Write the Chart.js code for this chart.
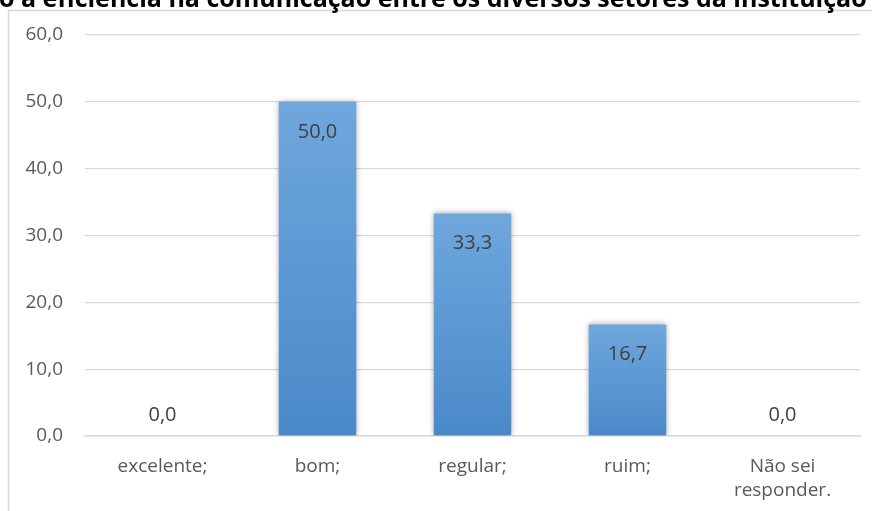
<!DOCTYPE html>
<html>
<head>
<meta charset="utf-8">
<script src="https://cdn.jsdelivr.net/npm/chart.js@4/dist/chart.umd.min.js"></script>
<style>
  html, body { margin: 0; padding: 0; background: #fff; }
  #wrap { position: relative; width: 872px; height: 511px; }
</style>
</head>
<body>
<div id="wrap"><canvas id="chart"></canvas></div>
<script>
// ── Dados ────────────────────────────────────────────────────────────
const categories = ['excelente;', 'bom;', 'regular;', 'ruim;', ['Não sei', 'responder.']];
const values     = [0.0, 50.0, 33.3, 16.7, 0.0];
const yTicks     = [0, 10, 20, 30, 40, 50, 60];
const titleText  = 'o a eficiência na comunicação entre os diversos setores da instituição';

const fmt = v => v.toFixed(1).replace('.', ',');

// gradiente por barra (claro em cima, mais escuro embaixo)
function barGradient(c) {
    const chart = c.chart;
    const y = chart.scales && chart.scales.y;
    if (!chart.chartArea || !y) return '#5b9bd5';
    const top = y.getPixelForValue(values[c.dataIndex]);
    const bottom = y.getPixelForValue(0);
    const g = chart.ctx.createLinearGradient(0, top, 0, Math.max(bottom, top + 1));
    g.addColorStop(0, '#6fa7dd');
    g.addColorStop(1, '#4a89c9');
    return g;
}

// moldura + título cortado no topo
const framePlugin = {
    id: 'frame',
    beforeDraw(chart) {
        const ctx = chart.ctx;
        ctx.save();
        ctx.strokeStyle = '#d9d9d9';
        ctx.lineWidth = 1.5;
        ctx.beginPath();
        ctx.moveTo(8.5, 520);
        ctx.lineTo(8.5, 10.5);
        ctx.lineTo(880, 10.5);
        ctx.stroke();

        ctx.fillStyle = '#000';
        ctx.font = 'bold 25px "Open Sans"';
        ctx.textBaseline = 'alphabetic';
        ctx.textAlign = 'left';
        ctx.fillText(titleText, -1, 7);
        ctx.restore();
    }
};

// sombra das barras
const shadowPlugin = {
    id: 'shadow',
    beforeDatasetsDraw(chart) {
        const ctx = chart.ctx;
        ctx.save();
        ctx.shadowColor = 'rgba(0,0,0,0.35)';
        ctx.shadowBlur = 6;
        ctx.shadowOffsetX = 0;
        ctx.shadowOffsetY = 0;
    },
    afterDatasetsDraw(chart) {
        chart.ctx.restore();
    }
};

// rótulos de dados
const labelPlugin = {
    id: 'labels',
    afterDatasetsDraw(chart) {
        const ctx = chart.ctx;
        const meta = chart.getDatasetMeta(0);
        ctx.save();
        ctx.fillStyle = '#404040';
        ctx.font = '20px "Open Sans"';
        ctx.textAlign = 'center';
        ctx.textBaseline = 'middle';
        meta.data.forEach((bar, i) => {
            const v = values[i];
            const y = v > 0 ? bar.y + 30 : bar.y - 21;
            ctx.fillText(fmt(v), bar.x, y);
        });
        ctx.restore();
    }
};

new Chart(document.getElementById('chart'), {
    type: 'bar',
    data: {
        labels: categories,
        datasets: [{
            data: values,
            backgroundColor: barGradient,
            borderWidth: 0,
            barPercentage: 0.5,
            categoryPercentage: 1.0
        }]
    },
    options: {
        responsive: true,
        maintainAspectRatio: false,
        animation: false,
        layout: { padding: { left: 10, right: 12, top: 35, bottom: 0 } },
        plugins: {
            legend: { display: false },
            tooltip: { enabled: false }
        },
        scales: {
            y: {
                min: 0, max: 60,
                afterFit: s => { s.width = 75; },
                afterBuildTicks: s => { s.ticks = yTicks.map(v => ({ value: v })); },
                grid: { color: '#d9d9d9', lineWidth: 1.3, drawTicks: false },
                border: { display: false },
                ticks: {
                    padding: 22,
                    color: '#595959',
                    font: { family: 'Open Sans', size: 19 },
                    callback: v => fmt(v)
                }
            },
            x: {
                afterFit: s => { s.height = 75; },
                grid: { display: false },
                border: { color: '#d9d9d9', width: 1.5 },
                ticks: {
                    padding: 10,
                    color: '#595959',
                    font: { family: 'Open Sans', size: 19, lineHeight: 1.3 },
                    maxRotation: 0
                }
            }
        }
    },
    plugins: [framePlugin, shadowPlugin, labelPlugin]
});
</script>
</body>
</html>
